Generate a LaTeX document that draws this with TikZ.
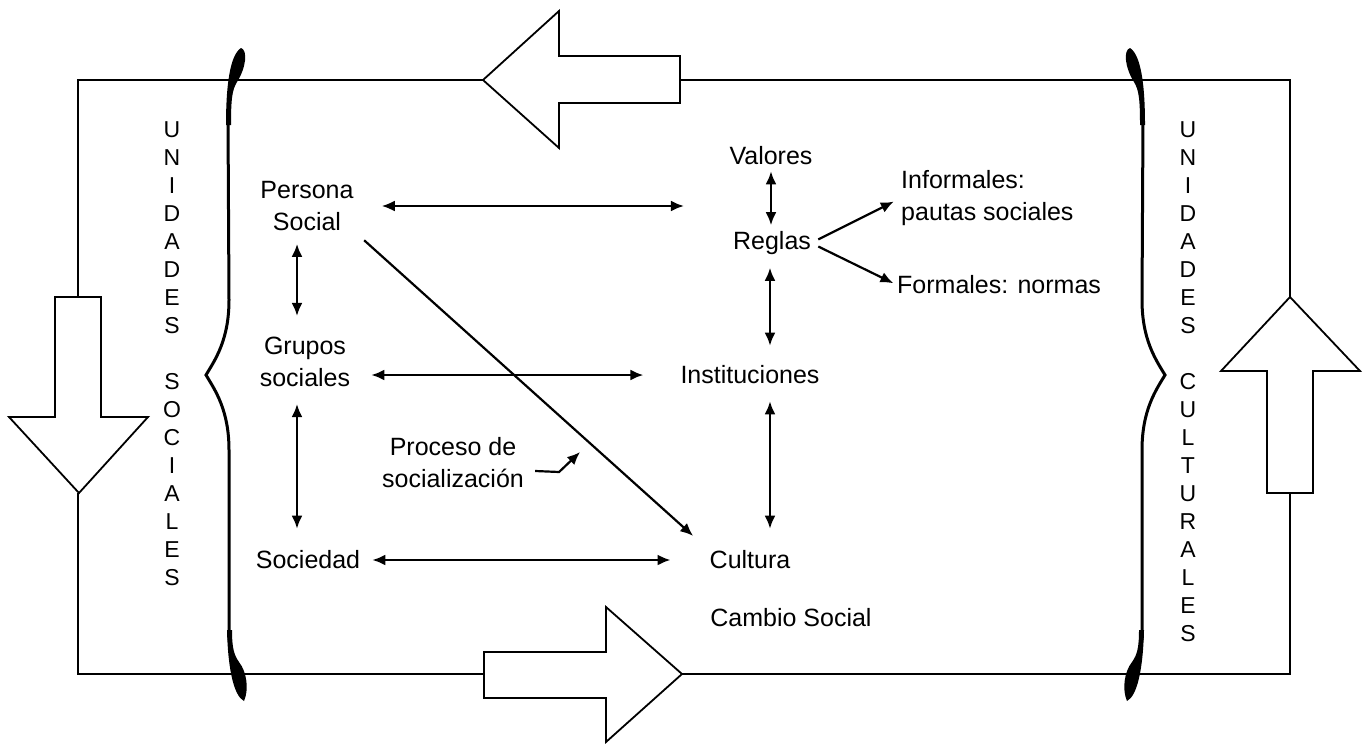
\documentclass[tikz,border=0pt]{standalone}
\usepackage{fontspec}
\setmainfont{Liberation Sans}
\usetikzlibrary{arrows.meta}
\newcommand\drawsbrace{%
  \fill (241,48) .. controls (248,50) and (246,68) .. (237,82) .. controls (232,90) and (231,100) .. (231,125) -- (226,125) .. controls (226,85) and (230,55) .. (241,48) -- cycle;
  \draw[line width=3pt] (228,120) -- (229,300) .. controls (229,340) and (215,360) .. (206,375) .. controls (215,390) and (229,410) .. (229,450) -- (229,640);
  \fill (227,630) .. controls (228,670) and (234,696) .. (244,701) .. controls (249,690) and (247,672) .. (239,662) .. controls (234,655) and (232,648) .. (232,630) -- cycle;
}
\begin{document}
\begin{tikzpicture}[x=1pt,y=-1pt,
  frame/.style={line width=1.8pt, line join=miter},
  bigarrow/.style={line width=1.8pt, fill=white, line join=miter},
  txt/.style={inner sep=0pt, font=\fontsize{25}{32}\selectfont, align=center},
  vcol/.style={inner sep=0pt, font=\fontsize{23}{28}\selectfont, align=center},
  dbl/.style={{Latex[length=13pt,width=11pt]}-{Latex[length=13pt,width=11pt]}, line width=2.2pt},
  sarrow/.style={-{Latex[length=13pt,width=11pt]}, line width=2.2pt}]
\fill[white] (0,0) rectangle (1365,744);
\useasboundingbox (0,0) rectangle (1365,744);

% outer frame
\draw[frame] (78,297) -- (78,80) -- (483,80);
\draw[frame] (680,80) -- (1290,80) -- (1290,297);
\draw[frame] (1290,493) -- (1290,674) -- (682,674);
\draw[frame] (484,674) -- (78,674) -- (78,493);

% big arrows
\draw[bigarrow] (483,80) -- (559,11) -- (559,56) -- (680,56) -- (680,103) -- (559,103) -- (559,148) -- cycle;
\draw[bigarrow] (484,652) -- (606,652) -- (606,607) -- (682,674) -- (606,742) -- (606,698) -- (484,698) -- cycle;
\draw[bigarrow] (55,297) -- (101,297) -- (101,417) -- (148,417) -- (79,493) -- (9,417) -- (55,417) -- cycle;
\draw[bigarrow] (1290,297) -- (1360,371) -- (1313,371) -- (1313,493) -- (1267,493) -- (1267,371) -- (1221,371) -- cycle;

% braces
\begin{scope}
\drawsbrace
\end{scope}
\begin{scope}[xshift=1371pt, xscale=-1]
\drawsbrace
\end{scope}

% vertical labels
\node[vcol] (us) at (172,354) {U\\N\\I\\D\\A\\D\\E\\S\\[28pt]S\\O\\C\\I\\A\\L\\E\\S};
\node[vcol] (uc) at (1188,382) {U\\N\\I\\D\\A\\D\\E\\S\\[28pt]C\\U\\L\\T\\U\\R\\A\\L\\E\\S};

% nodes
\node[txt] (ps) at (307,206) {Persona\\Social};
\node[txt] (gs) at (305,362) {Grupos\\sociales};
\node[txt] (soc) at (308,560) {Sociedad};
\node[txt] (val) at (771,156) {Valores};
\node[txt] (rg) at (772,243) {Reglas};
\node[txt] (inst) at (750,375) {Instituciones};
\node[txt] (cul) at (750,560) {Cultura};
\node[txt, anchor=west, align=left] (inf) at (901,198) {Informales:\\pautas sociales};
\node[txt, anchor=west] (form) at (897,285) {Formales: normas};
\node[txt] (pro) at (453,463) {Proceso de\\socialización};
\node[txt] (cam) at (791,618) {Cambio Social};

% connectors
\draw[dbl, shorten <=28pt, shorten >=49pt] (ps.east) -- (ps.east -| rg.west);
\draw[dbl, shorten <=13pt, shorten >=21pt] ([xshift=-10pt]ps.south) -- ([xshift=-10pt]ps.south |- gs.north);
\draw[dbl, shorten <=17pt, shorten >=22pt] ([xshift=-8pt]gs.south) -- ([xshift=-8pt]gs.south |- soc.north);
\draw[dbl, shorten <=21pt, shorten >=37pt] (gs.east |- inst) -- (inst.west);
\draw[dbl, shorten <=12pt, shorten >=39pt] (soc.east) -- (cul.west);
\draw[dbl, shorten <=6pt, shorten >=6pt] (val.south) -- (val.south |- rg.north);
\draw[dbl, shorten <=13pt, shorten >=20pt] ([xshift=-2pt]rg.south) -- ([xshift=-2pt]rg.south |- inst.north);
\draw[dbl, shorten <=17pt, shorten >=22pt] ([xshift=20pt]inst.south) -- ([xshift=20pt]inst.south |- cul.north);
\draw[sarrow, shorten <=14pt, shorten >=22pt] (ps.south east) -- (cul.north west);
\draw[sarrow, shorten <=8pt, shorten >=8pt] (rg.east) -- (inf.west);
\draw[sarrow, shorten <=8pt, shorten >=4pt] (rg.east) -- (form.west);
\draw[sarrow] ([xshift=11pt, yshift=-8pt]pro.east) -- ++(24,1) -- ++(21,-20);
\end{tikzpicture}
\end{document}
